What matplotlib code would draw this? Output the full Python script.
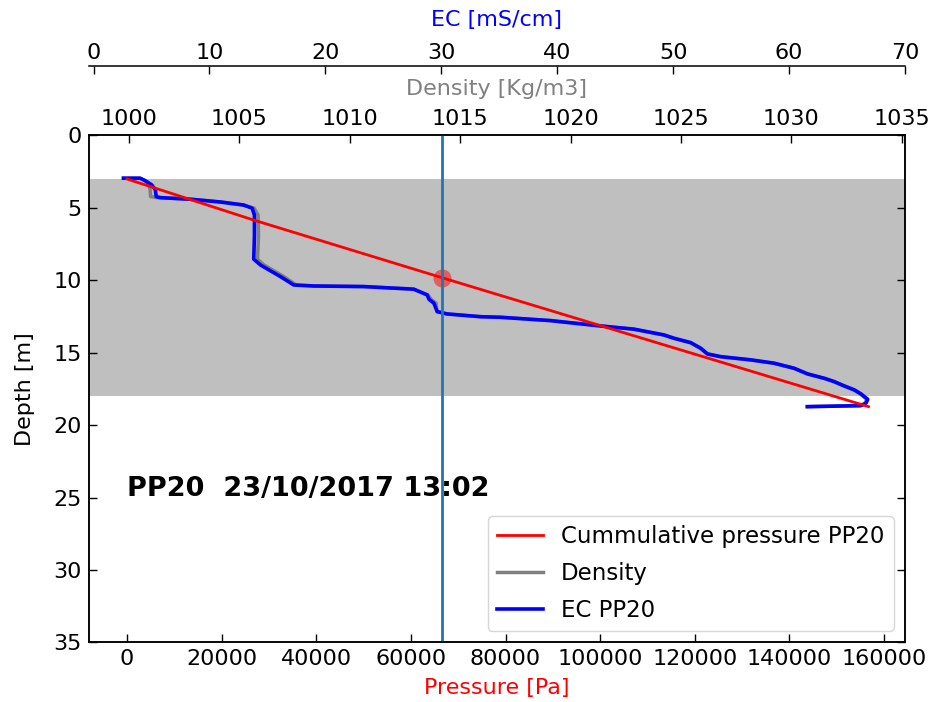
import matplotlib
matplotlib.use("Agg")
import matplotlib.pyplot as plt

# ---- data ----
depth = [2.95, 2.95, 3.12, 3.42, 3.76, 4.22, 4.29, 4.40, 4.59, 4.80, 5.02, 5.49, 6.98,
         8.54, 8.94, 9.74, 10.32, 10.39, 10.43, 10.61, 11.01, 11.30, 11.58, 12.16, 12.32,
         12.51, 12.55, 12.78, 13.15, 13.37, 13.77, 14.00, 14.30, 14.69, 15.08, 15.27,
         15.49, 15.72, 16.07, 16.46, 16.76, 16.99, 17.29, 17.56, 17.84, 18.21, 18.48,
         18.65, 18.72]
ec = [2.59, 4.03, 4.46, 5.04, 5.33, 5.41, 5.76, 8.35, 10.94, 12.95, 13.68, 13.88, 13.88,
      13.82, 14.40, 16.12, 17.27, 19.00, 23.32, 27.63, 28.79, 28.93, 29.36, 29.65, 30.52,
      33.39, 35.13, 39.44, 43.76, 46.63, 49.22, 50.09, 51.52, 52.39, 52.97, 54.12, 56.71,
      58.72, 60.45, 61.61, 63.04, 63.90, 64.77, 65.63, 66.21, 66.79, 66.64, 66.21, 61.61]
density = [999.75, 1000.50, 1000.73, 1000.91, 1000.96, 1000.98, 1001.27, 1002.77, 1004.13,
           1005.18, 1005.67, 1005.85, 1005.87, 1005.82, 1006.12, 1007.02, 1007.57, 1008.35,
           1010.62, 1012.88, 1013.55, 1013.68, 1013.91, 1013.95, 1014.39, 1015.90, 1016.81,
           1019.07, 1021.34, 1022.84, 1024.20, 1024.66, 1025.41, 1025.87, 1026.17, 1026.77,
           1028.13, 1029.18, 1030.09, 1030.70, 1031.45, 1031.90, 1032.36, 1032.81, 1033.11,
           1033.42, 1033.34, 1033.11, 1030.70]
press_depth = [3.0, 5.83, 9.81, 13.12, 18.72]
pressure = [0, 26700, 66500, 99980, 156700]
marker_pressure = 66500
marker_depth = 9.81
layer_top, layer_bottom = 3.0, 18.0
label_text = "PP20  23/10/2017 13:02"
label_pos = (0, 24.4)

FS = 16
fig = plt.figure(figsize=(9.3, 7.02), dpi=100)
ax = fig.add_axes([0.0952, 0.0848, 0.8779, 0.7222])
ax_d = ax.twiny()
ax_ec = ax.twiny()

# density axis (top of main axes), holds the grey layer
ax_d.axhspan(layer_top, layer_bottom, color='#bfbfbf', lw=0)
l_d, = ax_d.plot(density, depth, color='gray', lw=2.5, label='Density')
ax_d.set_xlim(998.17, 1035.15)
ax_d.set_xticks(range(1000, 1036, 5))
ax_d.set_xlabel('Density [Kg/m3]', color='gray', fontsize=FS, labelpad=10)

# EC axis (offset above)
l_ec, = ax_ec.plot(ec, depth, color='blue', lw=2.6, label='EC PP20')
ax_ec.set_xlim(-0.43, 70)
ax_ec.set_xticks(range(0, 71, 10))
ax_ec.spines['top'].set_position(('outward', 50))
for s in ['bottom', 'left', 'right']:
    ax_ec.spines[s].set_visible(False)
ax_ec.set_xlabel('EC [mS/cm]', color='blue', fontsize=FS, labelpad=12.5)

# main pressure axis on top
ax.set_zorder(ax_ec.get_zorder() + 2)
ax.patch.set_visible(False)
l_p, = ax.plot(pressure, press_depth, color='red', lw=2, label='Cummulative pressure PP20')
ax.plot([marker_pressure], [marker_depth], 'o', color='red', alpha=0.5, ms=13, mec='none')
ax.axvline(marker_pressure, color='#1f77b4', lw=2)
ax.text(label_pos[0], label_pos[1], label_text, fontsize=19.5, fontweight='bold',
        va='center', ha='left')
ax.set_xlim(-8100, 164400)
ax.set_ylim(35, 0)
ax.set_xticks(range(0, 160001, 20000))
ax.set_yticks(range(0, 36, 5))
ax.ticklabel_format(axis='x', style='plain')
ax.set_xlabel('Pressure [Pa]', color='red', fontsize=FS, labelpad=6)
ax.set_ylabel('Depth [m]', fontsize=FS, labelpad=13)

for a in (ax, ax_d, ax_ec):
    a.tick_params(direction='in', length=5.5, width=1.0, labelsize=FS, pad=5)
    for s in a.spines.values():
        s.set_linewidth(1.1)
ax_ec.tick_params(pad=2)
ax.tick_params(axis='x', top=False)
ax.tick_params(axis='y', right=True)

leg = ax.legend(handles=[l_p, l_d, l_ec], loc='lower right', fontsize=16.5,
                framealpha=0.8, fancybox=True, labelspacing=0.6)

fig.savefig('out.png', dpi=100)
